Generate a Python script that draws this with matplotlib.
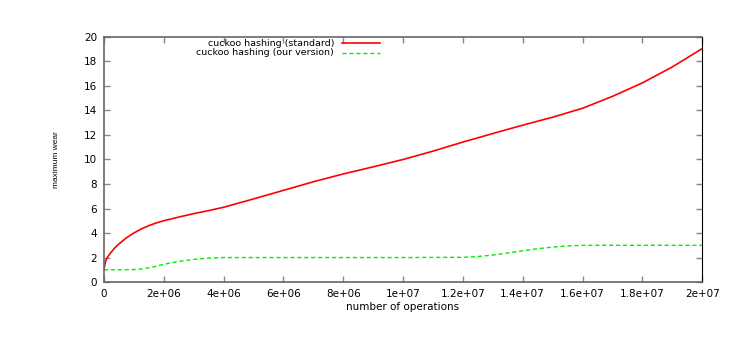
import numpy as np
import matplotlib
matplotlib.use("Agg")
import matplotlib.pyplot as plt

plt.rcParams['font.family'] = ['DejaVu Sans']

# operaciones (x) y desgaste maximo (y)
ops_std = [0, 0.05e6, 0.1e6, 0.2e6, 0.35e6, 0.5e6, 0.75e6, 1e6, 1.25e6, 1.5e6, 1.75e6, 2e6,
           2.5e6, 3e6, 3.5e6, 4e6, 5e6, 6e6, 7e6, 8e6, 9e6, 1e7, 1.1e7, 1.2e7, 1.3e7,
           1.4e7, 1.5e7, 1.6e7, 1.7e7, 1.8e7, 1.9e7, 2e7]
wear_std = [1.0, 1.6, 1.95, 2.3, 2.75, 3.1, 3.6, 4.0, 4.33, 4.6, 4.82, 5.0,
            5.3, 5.58, 5.83, 6.1, 6.78, 7.48, 8.18, 8.82, 9.4, 10.0, 10.68, 11.42, 12.12,
            12.8, 13.45, 14.18, 15.15, 16.25, 17.55, 19.05]

ops_ours = [0, 0.5e6, 1e6, 1.3e6, 1.6e6, 2e6, 2.5e6, 3e6, 3.5e6, 4e6, 6e6, 8e6, 1e7,
            1.2e7, 1.25e7, 1.3e7, 1.35e7, 1.4e7, 1.45e7, 1.5e7, 1.55e7, 1.6e7, 1.8e7, 2e7]
wear_ours = [1.0, 1.0, 1.02, 1.08, 1.2, 1.45, 1.68, 1.85, 1.95, 2.0, 2.0, 2.0, 2.0,
             2.02, 2.08, 2.2, 2.38, 2.55, 2.72, 2.85, 2.95, 3.0, 3.0, 3.0]

xticks = np.arange(0, 2.01e7, 2e6)
xlabels = ['0', '2e+06', '4e+06', '6e+06', '8e+06', '1e+07', '1.2e+07', '1.4e+07',
           '1.6e+07', '1.8e+07', '2e+07']
yticks = np.arange(0, 21, 2)
labels = ['cuckoo hashing (standard)', 'cuckoo hashing (our version)']

fig = plt.figure(figsize=(7.47, 3.39), dpi=100)
ax = fig.add_axes([0.139, 0.168, 0.801, 0.723])

ax.plot(ops_std, wear_std, color='#ff0000', lw=1.2)
ax.plot(ops_ours, wear_ours, color='#00ee00', lw=1.0, dashes=(3, 2))

ax.set_xlim(0, 2e7)
ax.set_ylim(0, 20)
ax.set_xticks(xticks)
ax.set_xticklabels(xlabels)
ax.set_yticks(yticks)
ax.tick_params(direction='in', length=4, width=1, color='#888888', labelsize=7.5,
               top=True, right=True, pad=5)

for s in ['left', 'bottom', 'top']:
    ax.spines[s].set_color('#666666')
    ax.spines[s].set_linewidth(1.2)
ax.spines['right'].set_color('black')

ax.set_xlabel('number of operations', fontsize=7.5, labelpad=2)
ax.set_ylabel('maximum wear', fontsize=6, family='Liberation Sans')
ax.yaxis.set_label_coords(-0.074, 0.5)

# leyenda a mano, estilo gnuplot
ax.text(0.385, 0.974, labels[0], transform=ax.transAxes, ha='right', va='center', fontsize=6.8)
ax.text(0.385, 0.936, labels[1], transform=ax.transAxes, ha='right', va='center', fontsize=6.8)
ax.plot([0.398, 0.462], [0.974, 0.974], transform=ax.transAxes, color='#ff0000', lw=1.2)
ax.plot([0.398, 0.462], [0.936, 0.936], transform=ax.transAxes, color='#00ee00', lw=1.0,
        dashes=(3, 2))

fig.savefig('out.png', dpi=100)
